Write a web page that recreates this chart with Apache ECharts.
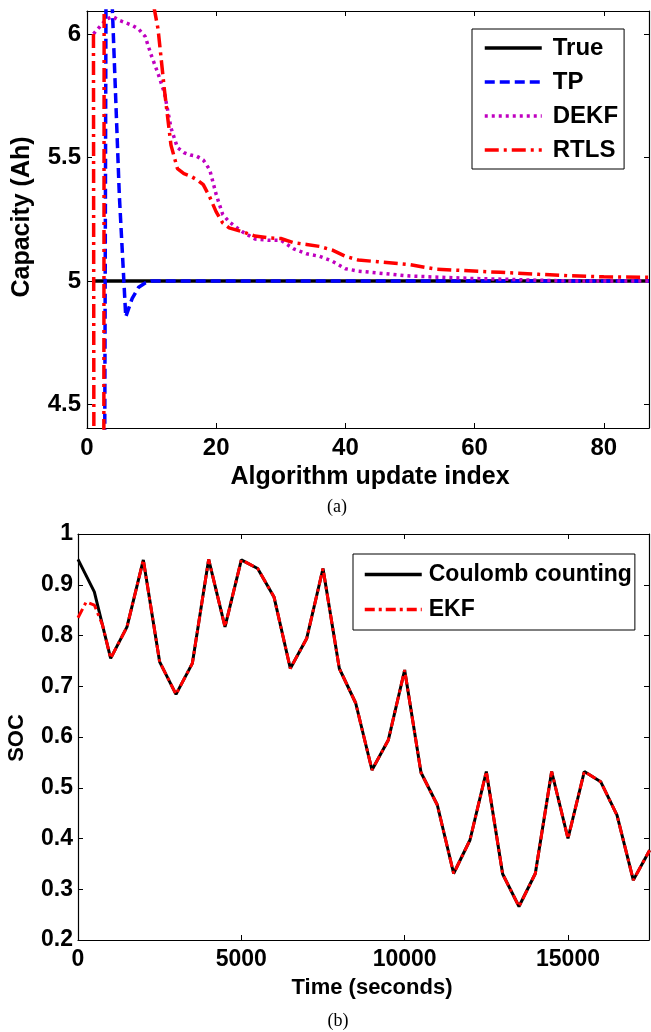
<!DOCTYPE html>
<html><head><meta charset="utf-8">
<script src="https://cdn.jsdelivr.net/npm/echarts@6/dist/echarts.min.js"></script>
<style>html,body{margin:0;padding:0;background:#fff}#c{width:651px;height:1032px}</style>
</head><body><div id="c"></div>
<script>
// ---- Panel (a): capacity estimation ----
const capXTicks = [0, 20, 40, 60, 80];
const capYTicks = [4.5, 5, 5.5, 6];
const trueX = [1, 87];
const trueY = [5, 5];
const tpX = [2, 3, 4, 5, 6, 7, 8, 9, 10, 87];
const tpY = [-2.5, 6.7, 6.05, 5.35, 4.855, 4.93, 4.975, 4.992, 5.0, 5.0];
const dekfX = [1, 2, 3, 4, 5, 6, 7, 8, 9, 10, 11, 12, 13, 14, 15, 16, 17, 18, 19, 20, 21, 22, 23, 24, 26, 28, 30, 32, 34, 36, 38, 40, 42, 44, 46, 50, 55, 60, 65, 70, 75, 87];
const dekfY = [6.0, 6.03, 6.06, 6.07, 6.055, 6.045, 6.035, 6.02, 5.99, 5.91, 5.84, 5.76, 5.62, 5.54, 5.52, 5.51, 5.505, 5.49, 5.45, 5.35, 5.27, 5.24, 5.22, 5.2, 5.17, 5.165, 5.165, 5.13, 5.11, 5.1, 5.08, 5.05, 5.04, 5.035, 5.03, 5.02, 5.015, 5.01, 5.007, 5.003, 5.0, 5.0];
const rtlsX = [1, 2, 3, 4, 5, 6, 7, 8, 9, 10, 11, 12, 13, 14, 15, 16, 17, 18, 19, 20, 21, 22, 24, 26, 28, 30, 32, 34, 36, 38, 40, 42, 45, 50, 54, 58, 64, 70, 75, 80, 87];
const rtlsY = [6.0, -20, 20, 13, 10, 8.5, 7.5, 6.8, 6.4, 6.16, 6.02, 5.77, 5.55, 5.455, 5.435, 5.425, 5.41, 5.39, 5.34, 5.28, 5.235, 5.215, 5.2, 5.182, 5.175, 5.172, 5.155, 5.148, 5.14, 5.125, 5.1, 5.085, 5.078, 5.066, 5.048, 5.043, 5.035, 5.027, 5.021, 5.017, 5.015];

// ---- Panel (b): SOC estimation ----
const socXTicks = [0, 5000, 10000, 15000];
const socTime = [0, 500, 1000, 1500, 2000, 2500, 3000, 3500, 4000, 4500, 5000, 5500, 6000, 6500, 7000, 7500, 8000, 8500, 9000, 9500, 10000, 10500, 11000, 11500, 12000, 12500, 13000, 13500, 14000, 14500, 15000, 15500, 16000, 16500, 17000, 17500];
const coulombSoc = [0.950, 0.886, 0.755, 0.817, 0.949, 0.748, 0.684, 0.745, 0.950, 0.817, 0.949, 0.932, 0.876, 0.735, 0.794, 0.932, 0.735, 0.667, 0.535, 0.594, 0.732, 0.530, 0.466, 0.331, 0.397, 0.532, 0.330, 0.266, 0.331, 0.532, 0.400, 0.532, 0.512, 0.446, 0.318, 0.377];
const ekfTime = [0, 250, 500, 750, 1000, 1500, 2000, 2500, 3000, 3500, 4000, 4500, 5000, 5500, 6000, 6500, 7000, 7500, 8000, 8500, 9000, 9500, 10000, 10500, 11000, 11500, 12000, 12500, 13000, 13500, 14000, 14500, 15000, 15500, 16000, 16500, 17000, 17500];
const ekfSoc = [0.835, 0.866, 0.860, 0.821, 0.755, 0.817, 0.949, 0.748, 0.684, 0.745, 0.950, 0.817, 0.949, 0.932, 0.876, 0.735, 0.794, 0.932, 0.735, 0.667, 0.535, 0.594, 0.732, 0.530, 0.466, 0.331, 0.397, 0.532, 0.330, 0.266, 0.331, 0.532, 0.400, 0.532, 0.512, 0.446, 0.318, 0.377];

const zip = (xs, ys) => xs.map((x, i) => [x, ys[i]]);
const FF = '"Liberation Sans", Arial, sans-serif';
const chart = echarts.init(document.getElementById('c'), null, {renderer: 'canvas'});

function mirrorAxis(base, extra) {
  return Object.assign({}, base, extra);
}
const axLine = {show: true, onZero: false, lineStyle: {color: '#000', width: 1.2}};

const capXBase = {type: 'value', gridIndex: 0, min: 0, max: 87, splitLine: {show: false}, axisLine: axLine,
  axisTick: {inside: true, length: 5, customValues: capXTicks, lineStyle: {color: '#000'}}};
const capYBase = {type: 'value', gridIndex: 0, min: 4.405, max: 6.093, splitLine: {show: false}, axisLine: axLine,
  axisTick: {inside: true, length: 5, customValues: capYTicks, lineStyle: {color: '#000'}}};
const socXBase = {type: 'value', gridIndex: 1, min: 0, max: 17480, splitLine: {show: false}, axisLine: axLine,
  axisTick: {inside: true, length: 5, customValues: socXTicks, lineStyle: {color: '#000'}}};
const socYBase = {type: 'value', gridIndex: 1, min: 0.2, max: 1, interval: 0.1, splitLine: {show: false}, axisLine: axLine,
  axisTick: {inside: true, length: 5, lineStyle: {color: '#000'}}};

const lblA = {color: '#000', fontFamily: FF, fontWeight: 'bold', fontSize: 24};
const lblB = {color: '#000', fontFamily: FF, fontWeight: 'bold', fontSize: 23};
const plain = v => String(v);

const legendCommon = {orient: 'vertical', borderColor: '#000', borderWidth: 1, backgroundColor: '#fff',
  selectedMode: false, itemWidth: 57, itemHeight: 14,
  itemStyle: {opacity: 0, color: 'transparent', borderWidth: 0}, lineStyle: {width: 3.5}};

const option = {
  animation: false,
  backgroundColor: '#fff',
  grid: [
    {left: 87, top: 11, width: 562, height: 417},
    {left: 78, top: 534, width: 571, height: 406}
  ],
  xAxis: [
    mirrorAxis(capXBase, {position: 'bottom', axisLabel: Object.assign({margin: 8, customValues: capXTicks, formatter: plain}, lblA)}),
    mirrorAxis(capXBase, {position: 'top', axisLabel: {show: false}}),
    mirrorAxis(socXBase, {position: 'bottom', axisLabel: Object.assign({margin: 8, customValues: socXTicks, formatter: plain}, lblB)}),
    mirrorAxis(socXBase, {position: 'top', axisLabel: {show: false}})
  ],
  yAxis: [
    mirrorAxis(capYBase, {position: 'left', axisLabel: Object.assign({margin: 6, customValues: capYTicks, formatter: plain}, lblA)}),
    mirrorAxis(capYBase, {position: 'right', axisLabel: {show: false}}),
    mirrorAxis(socYBase, {position: 'left', axisLabel: Object.assign({margin: 5}, lblB)}),
    mirrorAxis(socYBase, {position: 'right', axisLabel: {show: false}})
  ],
  legend: [
    Object.assign({}, legendCommon, {data: ['True', 'TP', 'DEKF', 'RTLS'], left: 472, top: 29,
     padding: [7, 6, 7, 11], itemGap: 10,
     textStyle: {fontSize: 24, fontWeight: 'bold', fontFamily: FF, color: '#000', lineHeight: 24, padding: [0, 0, 0, 6]}}),
    Object.assign({}, legendCommon, {data: ['Coulomb counting', 'EKF'], left: 353, top: 554,
     padding: [9, 3, 9, 10], itemGap: 12,
     textStyle: {fontSize: 23, fontWeight: 'bold', fontFamily: FF, color: '#000', lineHeight: 23, padding: [0, 0, 0, 2]}})
  ],
  series: [
    {name: 'True', type: 'line', xAxisIndex: 0, yAxisIndex: 0, data: zip(trueX, trueY), symbol: 'none',
     lineStyle: {color: '#000', width: 3.5}, itemStyle: {color: '#000'}},
    {name: 'TP', type: 'line', xAxisIndex: 0, yAxisIndex: 0, data: zip(tpX, tpY), symbol: 'none',
     lineStyle: {color: '#0000ff', width: 3.5, type: [10, 5]}, itemStyle: {color: '#0000ff'}},
    {name: 'DEKF', type: 'line', xAxisIndex: 0, yAxisIndex: 0, data: zip(dekfX, dekfY), symbol: 'none',
     lineStyle: {color: '#c000c0', width: 3.5, type: [3, 4]}, itemStyle: {color: '#c000c0'}},
    {name: 'RTLS', type: 'line', xAxisIndex: 0, yAxisIndex: 0, data: zip(rtlsX, rtlsY), symbol: 'none',
     lineStyle: {color: '#ff0000', width: 3.5, type: [14, 5, 3, 5]}, itemStyle: {color: '#ff0000'}},
    {name: 'Coulomb counting', type: 'line', xAxisIndex: 2, yAxisIndex: 2, data: zip(socTime, coulombSoc), symbol: 'none',
     lineStyle: {color: '#000', width: 3}, itemStyle: {color: '#000'}},
    {name: 'EKF', type: 'line', xAxisIndex: 2, yAxisIndex: 2, data: zip(ekfTime, ekfSoc), symbol: 'none',
     lineStyle: {color: '#ff0000', width: 3, type: [10, 4, 3, 4]}, itemStyle: {color: '#ff0000'}}
  ],
  graphic: [
    {type: 'text', x: 22, y: 217, rotation: Math.PI / 2,
     style: {text: 'Capacity (Ah)', font: 'bold 25px ' + FF, fill: '#000', align: 'center', verticalAlign: 'middle'}},
    {type: 'text', x: 370, y: 477,
     style: {text: 'Algorithm update index', font: 'bold 25px ' + FF, fill: '#000', align: 'center', verticalAlign: 'middle'}},
    {type: 'text', x: 337, y: 507,
     style: {text: '(a)', font: '18px "Liberation Serif", "Times New Roman", serif', fill: '#000', align: 'center', verticalAlign: 'middle'}},
    {type: 'text', x: 17, y: 738, rotation: Math.PI / 2,
     style: {text: 'SOC', font: 'bold 22px ' + FF, fill: '#000', align: 'center', verticalAlign: 'middle'}},
    {type: 'text', x: 372, y: 988,
     style: {text: 'Time (seconds)', font: 'bold 22px ' + FF, fill: '#000', align: 'center', verticalAlign: 'middle'}},
    {type: 'text', x: 338, y: 1021,
     style: {text: '(b)', font: '18px "Liberation Serif", "Times New Roman", serif', fill: '#000', align: 'center', verticalAlign: 'middle'}}
  ]
};
chart.setOption(option);
</script>
</body></html>
